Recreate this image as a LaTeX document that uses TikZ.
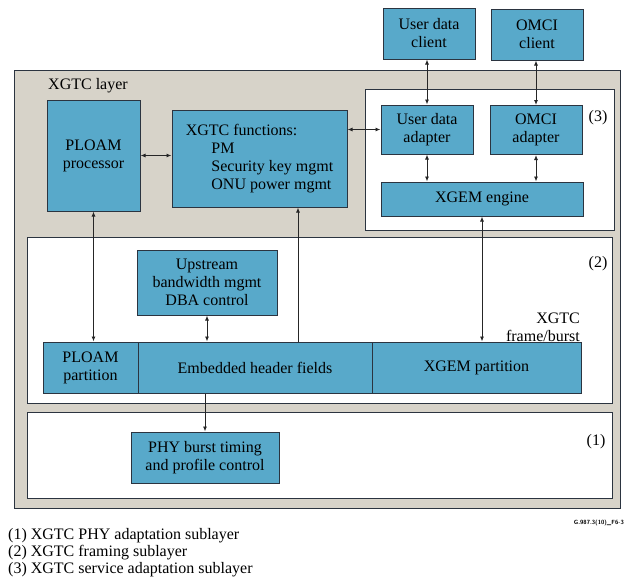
\documentclass[tikz,border=0pt]{standalone}
\usepackage{fontspec}
\setmainfont{Liberation Serif}
\usepackage{xcolor}
\definecolor{boxblue}{HTML}{58A9CA}
\definecolor{edge}{HTML}{2B3440}
\definecolor{layergray}{HTML}{D7D3C9}
\usepackage{tikz}
\usetikzlibrary{arrows.meta}
\newcommand{\boxfont}{\fontsize{16}{18}\selectfont}
\tikzset{
    fbox/.style={draw=edge, fill=boxblue, line width=1pt, align=center, inner sep=0pt, font=\boxfont},
    region/.style={draw=edge, fill=white, line width=1pt, inner sep=0pt},
    tag/.style={font=\boxfont, inner sep=0pt},
    link/.style={{Latex[length=5pt,width=4pt]}-{Latex[length=5pt,width=4pt]}, line width=0.9pt, black!85},
    uplink/.style={-{Latex[length=5pt,width=4pt]}, line width=0.9pt, black!85}
}

\begin{document}
\begin{tikzpicture}[x=1pt, y=-1pt]
  \useasboundingbox (0,0) rectangle (624,581);

  % XGTC layer and its sublayers
  \node[draw=edge, fill=layergray, line width=1pt, inner sep=0pt, minimum width=606pt, minimum height=438pt] (layer) at (317,289) {};
  \node[tag, anchor=west] (layerlbl) at (48,86) {XGTC layer};
  \node[region, minimum width=249pt, minimum height=141pt] (sub3) at (489.5,159.5) {};
  \node[region, minimum width=585pt, minimum height=166pt] (sub2) at (319.5,320) {};
  \node[region, minimum width=585pt, minimum height=86pt] (sub1) at (319.5,455) {};
  \node[tag] (tag3) at (598,118) {(3)};
  \node[tag] (tag2) at (598,264) {(2)};
  \node[tag] (tag1) at (596,442) {(1)};

  % Clients
  \node[fbox, minimum width=92pt, minimum height=51pt] (udclient) at (429,33.5) {User data\\client};
  \node[fbox, minimum width=92pt, minimum height=51pt] (omciclient) at (537,34.5) {OMCI\\client};

  % Service adaptation
  \node[fbox, minimum width=92pt, minimum height=49pt] (udadapter) at (427,129.5) {User data\\adapter};
  \node[fbox, minimum width=92pt, minimum height=49pt] (omciadapter) at (536,130) {OMCI\\adapter};
  \node[fbox, minimum width=202pt, minimum height=34pt] (xgem) at (482,199) {XGEM engine};

  % Management
  \node[fbox, minimum width=93pt, minimum height=111pt] (ploamproc) at (93.5,155.5) {PLOAM\\processor};
  \node[fbox, align=left, minimum width=175pt, minimum height=97pt] (xgtcfunc) at (259.5,158.5) {XGTC functions:\\\hspace*{1.6em}PM\\\hspace*{1.6em}Security key mgmt\\\hspace*{1.6em}ONU power mgmt};

  % Framing
  \node[fbox, minimum width=140pt, minimum height=65pt] (upstream) at (207,282.5) {Upstream\\bandwidth mgmt\\DBA control};
  \node[tag, align=right, anchor=east] (framelbl) at (580,327) {XGTC\\frame/burst};
  \node[fbox, minimum width=95pt, minimum height=51pt] (ploampart) at (90.5,367.5) {PLOAM\\partition};
  \node[fbox, minimum width=234pt, minimum height=51pt] (embedded) at (255,367.5) {Embedded header fields};
  \node[fbox, minimum width=209pt, minimum height=51pt] (xgempart) at (476.5,367.5) {XGEM partition};

  % PHY adaptation
  \node[fbox, minimum width=148pt, minimum height=51pt] (phy) at (205,457.5) {PHY burst timing\\and profile control};

  % Connectors
  \draw[link] (udadapter.north) -- (udadapter.north |- udclient.south);
  \draw[link] (omciadapter.north) -- (omciadapter.north |- omciclient.south);
  \draw[link] (udadapter.south) -- (udadapter.south |- xgem.north);
  \draw[link] (omciadapter.south) -- (omciadapter.south |- xgem.north);
  \draw[link] (ploamproc.east) -- (ploamproc.east -| xgtcfunc.west);
  \draw[link] (udadapter.west) -- (udadapter.west -| xgtcfunc.east);
  \draw[link] (ploamproc.south) -- (ploamproc.south |- ploampart.north);
  \draw[uplink] ([xshift=38.5pt]xgtcfunc.south |- embedded.north) -- ([xshift=38.5pt]xgtcfunc.south);
  \draw[link] (xgem.south) -- (xgem.south |- xgempart.north);
  \draw[link] (upstream.south) -- (upstream.south |- embedded.north);
  \draw[uplink] (phy.north |- embedded.south) -- (phy.north);

  % Legend
  \node[tag, align=left, anchor=north west, font=\fontsize{16}{17}\selectfont] (legend) at (8,528) {(1) XGTC PHY adaptation sublayer\\(2) XGTC framing sublayer\\(3) XGTC service adaptation sublayer};
  \node[anchor=east, inner sep=0pt, font=\sffamily\bfseries\fontsize{6}{7}\selectfont] (figid) at (624,523) {G.987.3(10)\_F6-3};
\end{tikzpicture}
\end{document}
